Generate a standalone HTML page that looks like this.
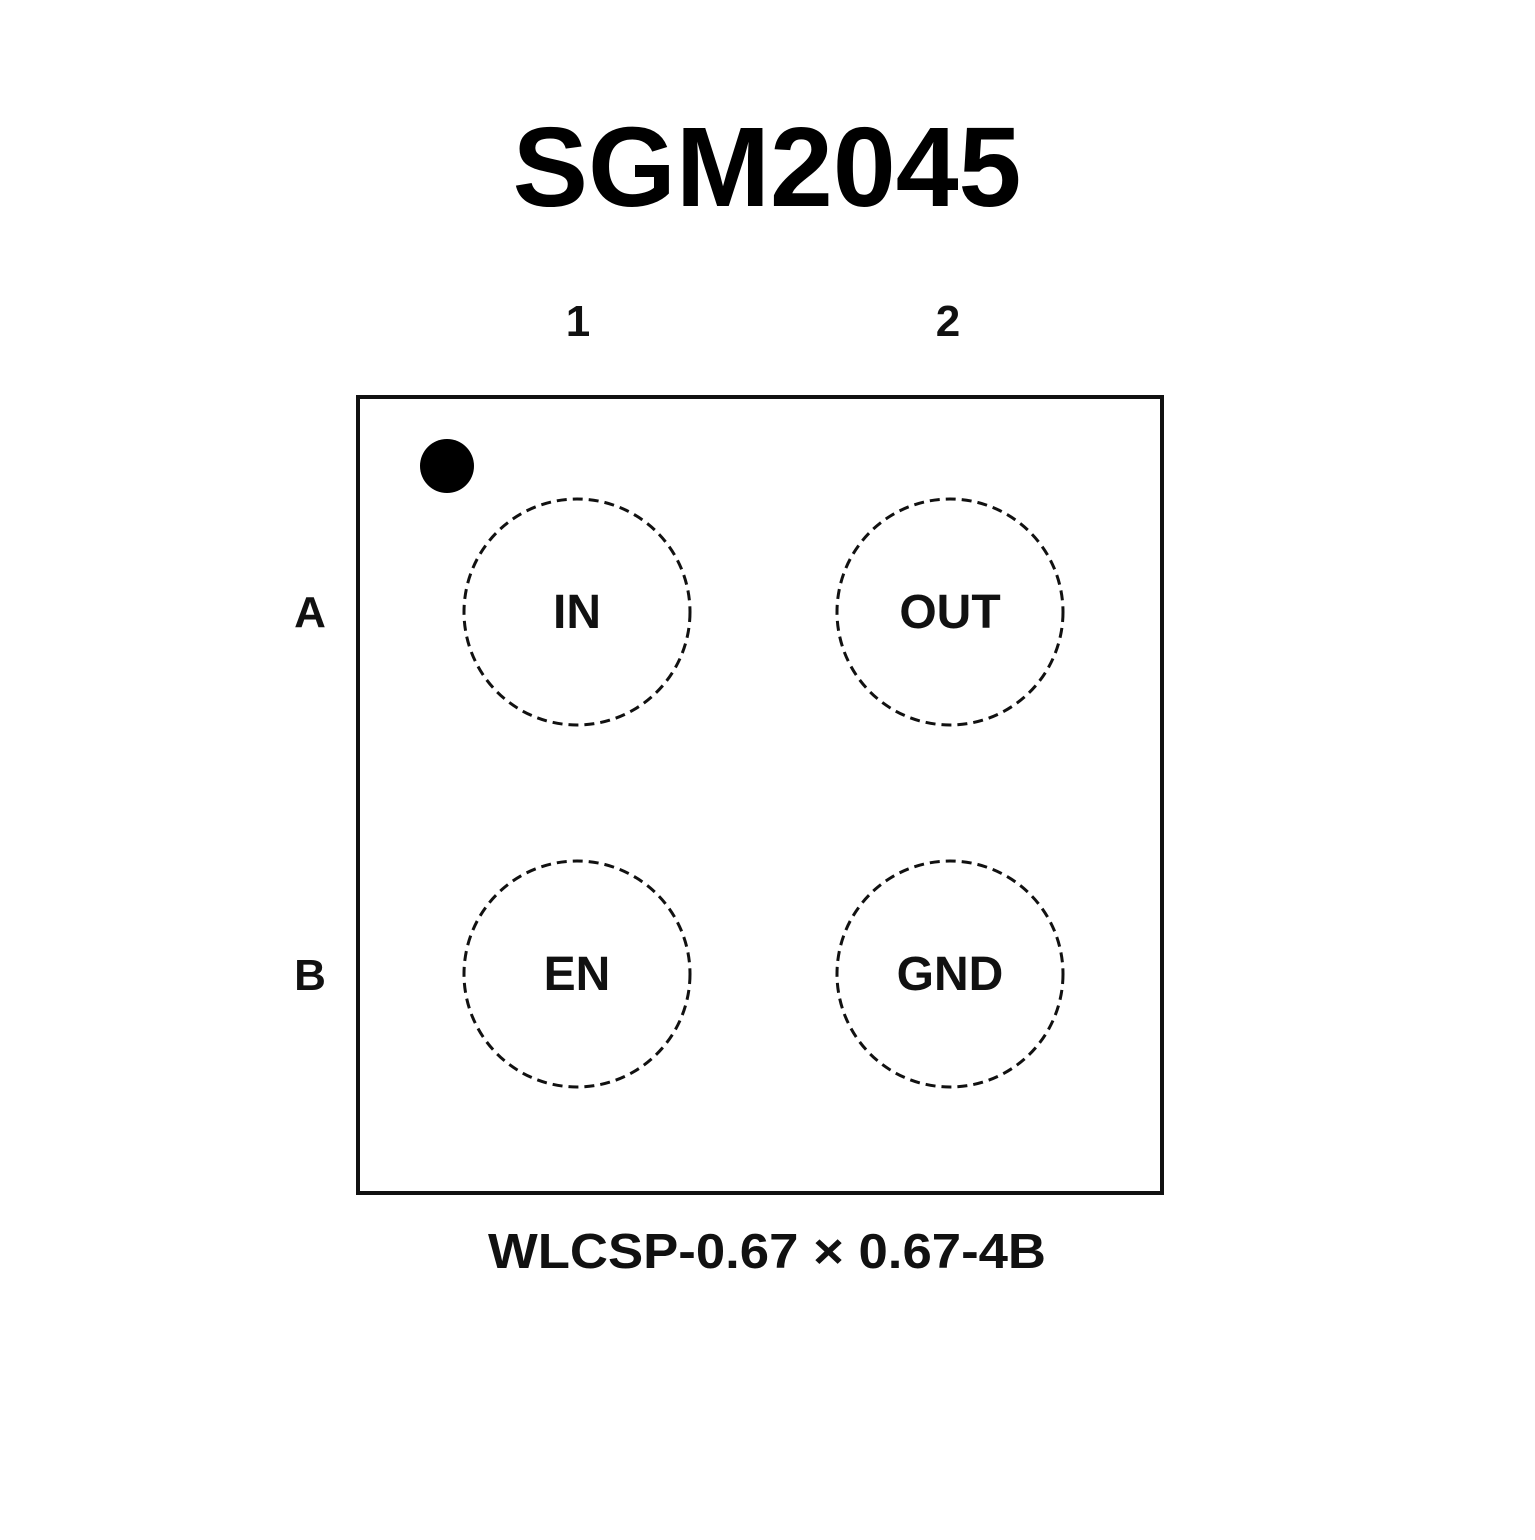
<!DOCTYPE html>
<html><head><style>html,body{margin:0;padding:0;background:#fff}</style></head>
<body>
<svg width="1535" height="1535" viewBox="0 0 1535 1535" xmlns="http://www.w3.org/2000/svg">
<rect width="1535" height="1535" fill="#fff"/>
<text x="767" y="206" text-anchor="middle" font-family="Liberation Sans, sans-serif" font-weight="bold" font-size="113" fill="#000">SGM2045</text>
<g font-family="Liberation Sans, sans-serif" font-weight="bold" font-size="44" fill="#111" text-anchor="middle">
<text x="578" y="336">1</text>
<text x="948" y="336">2</text>
<text x="310" y="627">A</text>
<text x="310" y="990">B</text>
</g>
<rect x="358" y="397" width="804" height="796" fill="none" stroke="#111" stroke-width="4"/>
<circle cx="447" cy="466" r="27" fill="#000"/>
<g fill="none" stroke="#111" stroke-width="3" stroke-dasharray="10 6">
<circle cx="577" cy="612" r="113"/>
<circle cx="950" cy="612" r="113"/>
<circle cx="577" cy="974" r="113"/>
<circle cx="950" cy="974" r="113"/>
</g>
<g font-family="Liberation Sans, sans-serif" font-weight="bold" font-size="48" fill="#111" text-anchor="middle">
<text x="577" y="628">IN</text>
<text x="950" y="628">OUT</text>
<text x="577" y="990">EN</text>
<text x="950" y="990">GND</text>
</g>
<text x="767" y="1268" text-anchor="middle" font-family="Liberation Sans, sans-serif" font-weight="bold" font-size="49" fill="#111" textLength="558" lengthAdjust="spacingAndGlyphs">WLCSP-0.67 × 0.67-4B</text>
</svg>
</body></html>
